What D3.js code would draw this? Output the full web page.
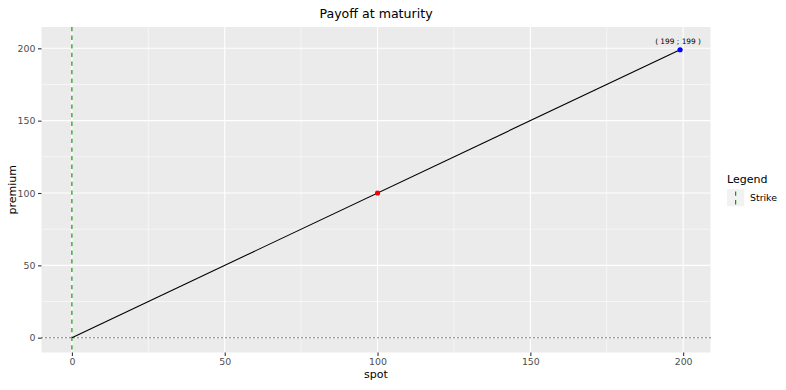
<!DOCTYPE html>
<html>
<head>
<meta charset="utf-8">
<script src="https://cdn.jsdelivr.net/npm/d3@7"></script>
<style>
  body { margin: 0; background: #fff; }
  svg { font-family: "DejaVu Sans", sans-serif; }
</style>
</head>
<body>
<div id="chart"></div>
<script>
// payoff line (spot -> premium)
const spot = [0, 199];
const premium = [0, 199];
// highlighted points
const pointX = [100, 199];
const pointY = [100, 199];
const pointColors = ["#ff0000", "#0000ff"];
// label at the end of the line
const labelText = ["( 199 ; 199 )"];
const labelX = [199];
const labelY = [204.5];
// reference lines
const strike = [0];
const zeroLine = [0];
// ticks
const xTicks = [0, 50, 100, 150, 200];
const yTicks = [0, 50, 100, 150, 200];
const xMinor = [25, 75, 125, 175];
const yMinor = [25, 75, 125, 175];

const width = 786, height = 390;
const panel = { left: 41.5, right: 710.5, top: 27, bottom: 352.5 };

const svg = d3.select("#chart").append("svg")
  .attr("width", width)
  .attr("height", height);

// ggplot-like 5% expansion
function expand(lo, hi) {
  const pad = (hi - lo) * 0.05;
  return [lo - pad, hi + pad];
}
const xDom = expand(d3.min(spot.concat(strike)), d3.max(spot.concat(pointX, labelX)));
const yDom = expand(d3.min(premium.concat(zeroLine)), d3.max(premium.concat(pointY, labelY)));

const x = d3.scaleLinear().domain(xDom).range([panel.left, panel.right]);
const y = d3.scaleLinear().domain(yDom).range([panel.bottom, panel.top]);

// panel background
svg.append("rect")
  .attr("x", panel.left).attr("y", panel.top)
  .attr("width", panel.right - panel.left)
  .attr("height", panel.bottom - panel.top)
  .attr("fill", "#ebebeb");

// grid
const grid = svg.append("g");
grid.selectAll(".xminor").data(xMinor).enter().append("line")
  .attr("x1", d => x(d)).attr("x2", d => x(d))
  .attr("y1", panel.top).attr("y2", panel.bottom)
  .attr("stroke", "#fff").attr("stroke-width", 0.55);
grid.selectAll(".yminor").data(yMinor).enter().append("line")
  .attr("y1", d => y(d)).attr("y2", d => y(d))
  .attr("x1", panel.left).attr("x2", panel.right)
  .attr("stroke", "#fff").attr("stroke-width", 0.55);
grid.selectAll(".xmajor").data(xTicks).enter().append("line")
  .attr("x1", d => x(d)).attr("x2", d => x(d))
  .attr("y1", panel.top).attr("y2", panel.bottom)
  .attr("stroke", "#fff").attr("stroke-width", 1.1);
grid.selectAll(".ymajor").data(yTicks).enter().append("line")
  .attr("y1", d => y(d)).attr("y2", d => y(d))
  .attr("x1", panel.left).attr("x2", panel.right)
  .attr("stroke", "#fff").attr("stroke-width", 1.1);

// axes
const xAxis = svg.append("g")
  .attr("transform", `translate(0,${panel.bottom})`)
  .call(d3.axisBottom(x).tickValues(xTicks).tickSize(3.5).tickPadding(2.5));
const yAxis = svg.append("g")
  .attr("transform", `translate(${panel.left},0)`)
  .call(d3.axisLeft(y).tickValues(yTicks).tickSize(3.5).tickPadding(2.5));
[xAxis, yAxis].forEach(a => {
  a.select(".domain").remove();
  a.selectAll(".tick line").attr("stroke", "#333").attr("stroke-width", 1.1);
  a.selectAll(".tick text")
    .attr("fill", "#4d4d4d")
    .style("font-size", "9.4px")
    .style("font-family", "DejaVu Sans");
});

// horizontal dotted line at 0
svg.selectAll(".hline").data(zeroLine).enter().append("line")
  .attr("x1", panel.left).attr("x2", panel.right)
  .attr("y1", d => y(d)).attr("y2", d => y(d))
  .attr("stroke", "#000").attr("stroke-width", 1.1)
  .attr("stroke-dasharray", "1,3");

// strike line (dashed green)
svg.selectAll(".vline").data(strike).enter().append("line")
  .attr("x1", d => x(d)).attr("x2", d => x(d))
  .attr("y1", panel.top).attr("y2", panel.bottom)
  .attr("stroke", "#008b00").attr("stroke-width", 1.1)
  .attr("stroke-dasharray", "4.3,4.3");

// payoff line
const lineData = spot.map((s, i) => [s, premium[i]]);
svg.append("path")
  .datum(lineData)
  .attr("d", d3.line().x(d => x(d[0])).y(d => y(d[1])))
  .attr("fill", "none")
  .attr("stroke", "#000")
  .attr("stroke-width", 1.1);

// points
svg.selectAll(".pt").data(pointX).enter().append("circle")
  .attr("cx", d => x(d))
  .attr("cy", (d, i) => y(pointY[i]))
  .attr("r", 2.6)
  .attr("fill", (d, i) => pointColors[i]);

// label
svg.selectAll(".lbl").data(labelText).enter().append("text")
  .attr("x", (d, i) => x(labelX[i]) - 2)
  .attr("y", (d, i) => y(labelY[i]) + 2.5)
  .attr("text-anchor", "middle")
  .style("font-size", "7.4px")
  .attr("fill", "#000")
  .text(d => d);

// title
svg.append("text")
  .attr("x", (panel.left + panel.right) / 2)
  .attr("y", 18)
  .attr("text-anchor", "middle")
  .style("font-size", "12.6px")
  .attr("fill", "#000")
  .text("Payoff at maturity");

// axis titles
svg.append("text")
  .attr("x", (panel.left + panel.right) / 2)
  .attr("y", 378)
  .attr("text-anchor", "middle")
  .style("font-size", "11px")
  .text("spot");
svg.append("text")
  .attr("transform", `translate(15.5,${(panel.top + panel.bottom) / 2}) rotate(-90)`)
  .attr("text-anchor", "middle")
  .style("font-size", "11px")
  .text("premium");

// legend
const legend = svg.append("g").attr("transform", "translate(727,0)");
legend.append("text")
  .attr("x", 0).attr("y", 183)
  .style("font-size", "11px")
  .text("Legend");
legend.append("rect")
  .attr("x", 0).attr("y", 189)
  .attr("width", 17.3).attr("height", 17.3)
  .attr("fill", "#f2f2f2");
legend.append("line")
  .attr("x1", 8.65).attr("x2", 8.65)
  .attr("y1", 190).attr("y2", 206)
  .attr("stroke", "#008b00").attr("stroke-width", 1.1)
  .attr("stroke-dasharray", "4.3,4.3")
  .attr("stroke-dashoffset", -1.5);
legend.append("text")
  .attr("x", 23).attr("y", 201)
  .style("font-size", "9.4px")
  .text("Strike");
</script>
</body>
</html>
